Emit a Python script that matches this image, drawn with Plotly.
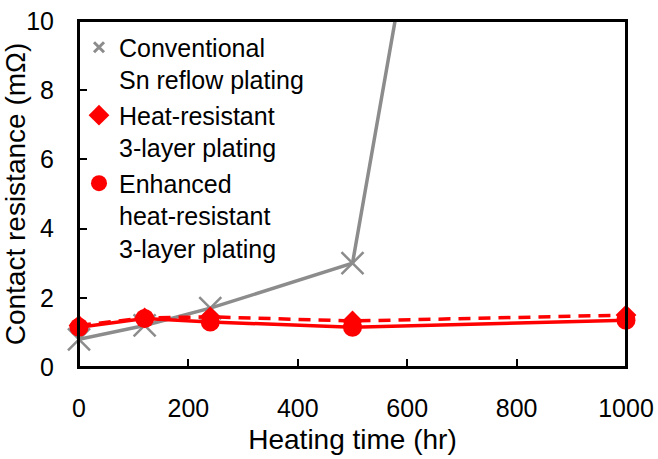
import plotly.graph_objects as go

hours = [0, 120, 240, 500, 1000]
conventional = [0.8, 1.2, 1.7, 3.0, 48]
heat_resistant = [1.2, 1.42, 1.45, 1.33, 1.5]
enhanced = [1.15, 1.4, 1.3, 1.15, 1.35]

names = ["Conventional<br>Sn reflow plating",
         "Heat-resistant<br>3-layer plating",
         "Enhanced<br>heat-resistant<br>3-layer plating"]

GRAY = "rgb(140,140,140)"
RED = "rgb(255,0,0)"
FONT = "Liberation Sans, Arial, sans-serif"

fig = go.Figure()
fig.add_trace(go.Scatter(x=hours, y=conventional, mode="lines+markers",
                         line=dict(color=GRAY, width=3.5),
                         marker=dict(symbol="x-thin", size=22, line=dict(color=GRAY, width=2.5)),
                         cliponaxis=False, showlegend=False))
fig.add_trace(go.Scatter(x=hours, y=heat_resistant, mode="lines+markers",
                         line=dict(color=RED, width=3.5, dash="12px,8px"),
                         marker=dict(symbol="diamond", size=16, color=RED),
                         cliponaxis=False, showlegend=False))
fig.add_trace(go.Scatter(x=hours, y=enhanced, mode="lines+markers",
                         line=dict(color=RED, width=3.5),
                         marker=dict(symbol="circle", size=19, color=RED),
                         cliponaxis=False, showlegend=False))

# legend entries (markers only, as in the reference)
fig.add_trace(go.Scatter(x=[None], y=[None], mode="markers", name=names[0],
                         marker=dict(symbol="x-thin", size=10, line=dict(color=GRAY, width=3))))
fig.add_trace(go.Scatter(x=[None], y=[None], mode="markers", name=names[1],
                         marker=dict(symbol="diamond", size=16, color=RED)))
fig.add_trace(go.Scatter(x=[None], y=[None], mode="markers", name=names[2],
                         marker=dict(symbol="circle", size=20, color=RED)))

axis_common = dict(showline=True, linecolor="black", linewidth=2, mirror=True,
                   ticks="inside", ticklen=8, tickwidth=2, tickcolor="black",
                   showgrid=False, zeroline=False, automargin=False,
                   tickfont=dict(family=FONT, size=25, color="black"),
                   ticklabelstandoff=18)

fig.update_xaxes(range=[0, 1000], tickvals=[0, 200, 400, 600, 800, 1000],
                 title=dict(text="Heating time (hr)", font=dict(family=FONT, size=28, color="black"),
                            standoff=8),
                 **axis_common)
fig.update_yaxes(range=[0, 10], tickvals=[0, 2, 4, 6, 8, 10],
                 title=dict(text="Contact resistance (mΩ)", font=dict(family=FONT, size=28, color="black"),
                            standoff=9),
                 **axis_common)

# frame around the plotting area
fig.add_shape(type="rect", xref="paper", yref="paper", x0=0, x1=1, y0=0, y1=1,
              line=dict(color="black", width=2), fillcolor="rgba(0,0,0,0)", layer="above")

fig.update_layout(
    width=658, height=459,
    margin=dict(l=79, r=32, t=21, b=92, autoexpand=False),
    plot_bgcolor="white", paper_bgcolor="white",
    font=dict(family=FONT, color="black"),
    legend=dict(x=0, y=0.99, xanchor="left", yanchor="top", bgcolor="rgba(0,0,0,0)",
                font=dict(family=FONT, size=25, color="black"),
                valign="top", tracegroupgap=0, itemsizing="trace"),
)

# remove the default 8px page margin so the figure sits at the window's corner
fig.write_html("out.html", config={"displayModeBar": False},
               post_script="document.body.style.margin='0';document.body.style.overflow='hidden';")
